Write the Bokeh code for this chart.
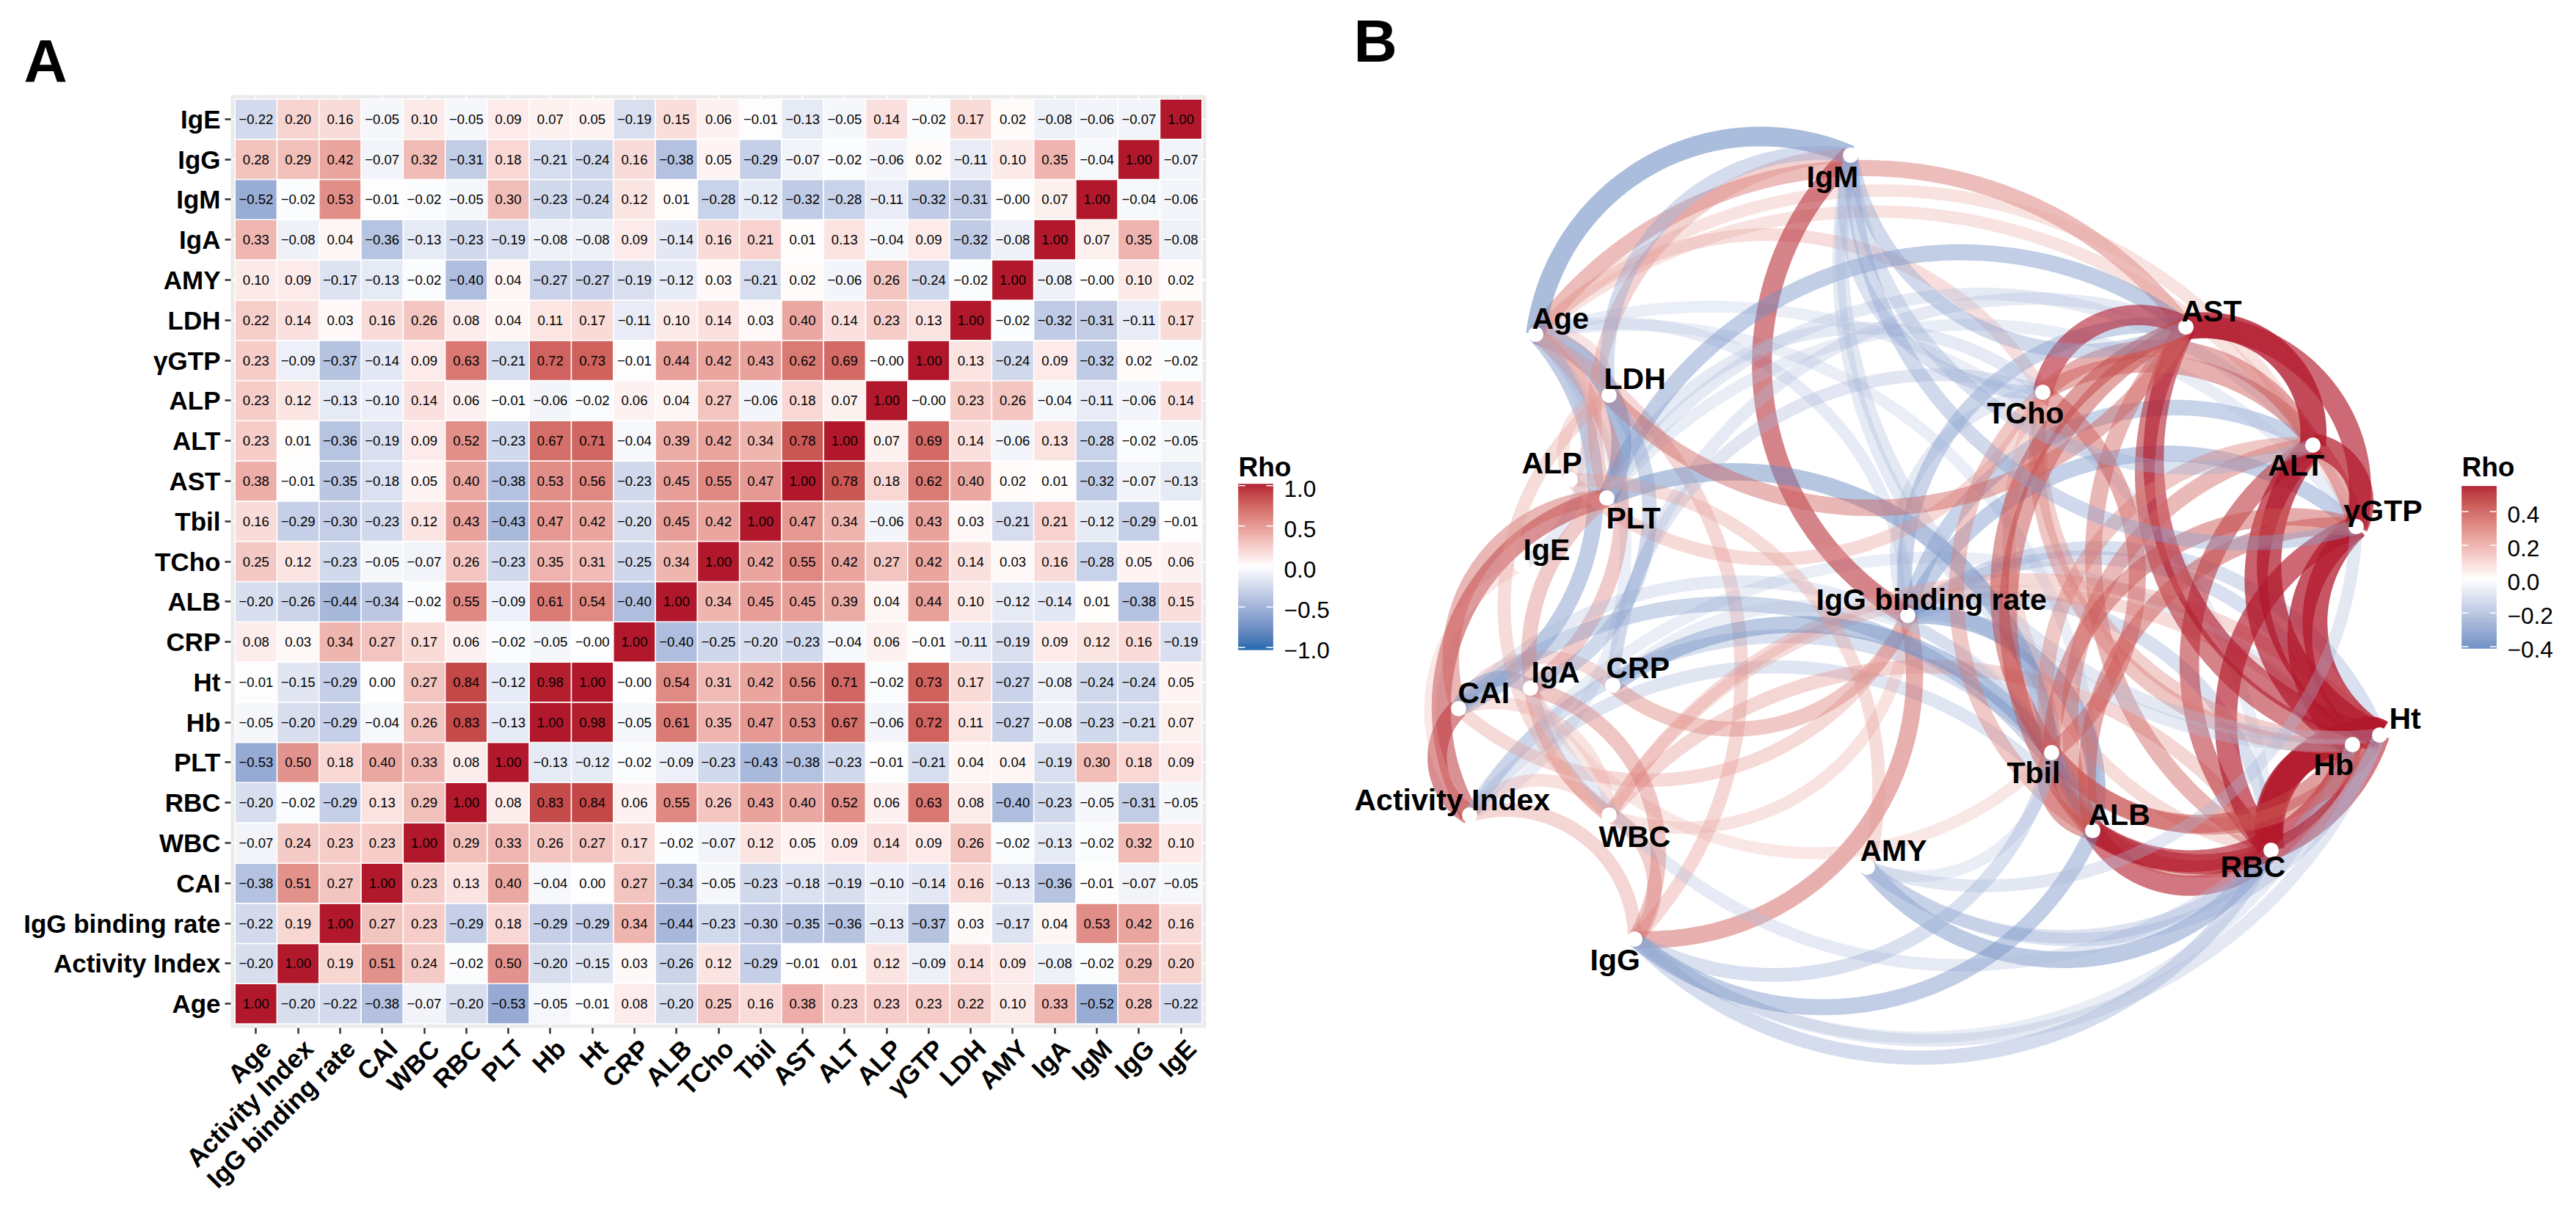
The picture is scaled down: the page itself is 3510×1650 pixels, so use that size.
import math
import numpy as np
from bokeh.embed import file_html
from bokeh.resources import INLINE
from bokeh.layouts import row, column
from bokeh.plotting import figure
from bokeh.models import (ColumnDataSource, LinearColorMapper, FixedTicker, Range1d, LinearAxis, Title)
from bokeh.core.properties import value

FONT = "Liberation Sans"

names = ["Age", "Activity Index", "IgG binding rate", "CAI", "WBC", "RBC", "PLT", "Hb", "Ht", "CRP",
         "ALB", "TCho", "Tbil", "AST", "ALT", "ALP", "γGTP", "LDH", "AMY", "IgA", "IgM", "IgG", "IgE"]

r_Age  = [1.00,-0.20,-0.22,-0.38,-0.07,-0.20,-0.53,-0.05,-0.01,0.08,-0.20,0.25,0.16,0.38,0.23,0.23,0.23,0.22,0.10,0.33,-0.52,0.28,-0.22]
r_Act  = [-0.20,1.00,0.19,0.51,0.24,-0.02,0.50,-0.20,-0.15,0.03,-0.26,0.12,-0.29,-0.01,0.01,0.12,-0.09,0.14,0.09,-0.08,-0.02,0.29,0.20]
r_IgGb = [-0.22,0.19,1.00,0.27,0.23,-0.29,0.18,-0.29,-0.29,0.34,-0.44,-0.23,-0.30,-0.35,-0.36,-0.13,-0.37,0.03,-0.17,0.04,0.53,0.42,0.16]
r_CAI  = [-0.38,0.51,0.27,1.00,0.23,0.13,0.40,-0.04,0.00,0.27,-0.34,-0.05,-0.23,-0.18,-0.19,-0.10,-0.14,0.16,-0.13,-0.36,-0.01,-0.07,-0.05]
r_WBC  = [-0.07,0.24,0.23,0.23,1.00,0.29,0.33,0.26,0.27,0.17,-0.02,-0.07,0.12,0.05,0.09,0.14,0.09,0.26,-0.02,-0.13,-0.02,0.32,0.10]
r_RBC  = [-0.20,-0.02,-0.29,0.13,0.29,1.00,0.08,0.83,0.84,0.06,0.55,0.26,0.43,0.40,0.52,0.06,0.63,0.08,-0.40,-0.23,-0.05,-0.31,-0.05]
r_PLT  = [-0.53,0.50,0.18,0.40,0.33,0.08,1.00,-0.13,-0.12,-0.02,-0.09,-0.23,-0.43,-0.38,-0.23,-0.01,-0.21,0.04,0.04,-0.19,0.30,0.18,0.09]
r_Hb   = [-0.05,-0.20,-0.29,-0.04,0.26,0.83,-0.13,1.00,0.98,-0.05,0.61,0.35,0.47,0.53,0.67,-0.06,0.72,0.11,-0.27,-0.08,-0.23,-0.21,0.07]
r_Ht   = [-0.01,-0.15,-0.29,0.00,0.27,0.84,-0.12,0.98,1.00,-0.00,0.54,0.31,0.42,0.56,0.71,-0.02,0.73,0.17,-0.27,-0.08,-0.24,-0.24,0.05]
r_CRP  = [0.08,0.03,0.34,0.27,0.17,0.06,-0.02,-0.05,-0.00,1.00,-0.40,-0.25,-0.20,-0.23,-0.04,0.06,-0.01,-0.11,-0.19,0.09,0.12,0.16,-0.19]
r_ALB  = [-0.20,-0.26,-0.44,-0.34,-0.02,0.55,-0.09,0.61,0.54,-0.40,1.00,0.34,0.45,0.45,0.39,0.04,0.44,0.10,-0.12,-0.14,0.01,-0.38,0.15]
r_TCho = [0.25,0.12,-0.23,-0.05,-0.07,0.26,-0.23,0.35,0.31,-0.25,0.34,1.00,0.42,0.55,0.42,0.27,0.42,0.14,0.03,0.16,-0.28,0.05,0.06]
r_Tbil = [0.16,-0.29,-0.30,-0.23,0.12,0.43,-0.43,0.47,0.42,-0.20,0.45,0.42,1.00,0.47,0.34,-0.06,0.43,0.03,-0.21,0.21,-0.12,-0.29,-0.01]
r_AST  = [0.38,-0.01,-0.35,-0.18,0.05,0.40,-0.38,0.53,0.56,-0.23,0.45,0.55,0.47,1.00,0.78,0.18,0.62,0.40,0.02,0.01,-0.32,-0.07,-0.13]
r_ALT  = [0.23,0.01,-0.36,-0.19,0.09,0.52,-0.23,0.67,0.71,-0.04,0.39,0.42,0.34,0.78,1.00,0.07,0.69,0.14,-0.06,0.13,-0.28,-0.02,-0.05]
r_ALP  = [0.23,0.12,-0.13,-0.10,0.14,0.06,-0.01,-0.06,-0.02,0.06,0.04,0.27,-0.06,0.18,0.07,1.00,-0.00,0.23,0.26,-0.04,-0.11,-0.06,0.14]
r_GTP  = [0.23,-0.09,-0.37,-0.14,0.09,0.63,-0.21,0.72,0.73,-0.01,0.44,0.42,0.43,0.62,0.69,-0.00,1.00,0.13,-0.24,0.09,-0.32,0.02,-0.02]
r_LDH  = [0.22,0.14,0.03,0.16,0.26,0.08,0.04,0.11,0.17,-0.11,0.10,0.14,0.03,0.40,0.14,0.23,0.13,1.00,-0.02,-0.32,-0.31,-0.11,0.17]
r_AMY  = [0.10,0.09,-0.17,-0.13,-0.02,-0.40,0.04,-0.27,-0.27,-0.19,-0.12,0.03,-0.21,0.02,-0.06,0.26,-0.24,-0.02,1.00,-0.08,-0.00,0.10,0.02]
r_IgA  = [0.33,-0.08,0.04,-0.36,-0.13,-0.23,-0.19,-0.08,-0.08,0.09,-0.14,0.16,0.21,0.01,0.13,-0.04,0.09,-0.32,-0.08,1.00,0.07,0.35,-0.08]
r_IgM  = [-0.52,-0.02,0.53,-0.01,-0.02,-0.05,0.30,-0.23,-0.24,0.12,0.01,-0.28,-0.12,-0.32,-0.28,-0.11,-0.32,-0.31,-0.00,0.07,1.00,-0.04,-0.06]
r_IgG  = [0.28,0.29,0.42,-0.07,0.32,-0.31,0.18,-0.21,-0.24,0.16,-0.38,0.05,-0.29,-0.07,-0.02,-0.06,0.02,-0.11,0.10,0.35,-0.04,1.00,-0.07]
r_IgE  = [-0.22,0.20,0.16,-0.05,0.10,-0.05,0.09,0.07,0.05,-0.19,0.15,0.06,-0.01,-0.13,-0.05,0.14,-0.02,0.17,0.02,-0.08,-0.06,-0.07,1.00]
matrix = [r_Age, r_Act, r_IgGb, r_CAI, r_WBC, r_RBC, r_PLT, r_Hb, r_Ht, r_CRP, r_ALB, r_TCho, r_Tbil,
          r_AST, r_ALT, r_ALP, r_GTP, r_LDH, r_AMY, r_IgA, r_IgM, r_IgG, r_IgE]

node_x = [2094, 2004, 2601, 1989, 2194, 3096, 2191, 3207, 3244, 2199, 2853, 2785, 2797, 2980, 3153, 2141, 3212, 2194, 2546, 2087, 2523, 2229, 2075]
node_y = [463, 1118, 846, 973, 1118, 1166, 686, 1022, 1009, 941, 1139, 542, 1033, 453, 614, 661, 725, 546, 1189, 945, 219, 1287, 778]
label_x = [2089, 1847, 2476, 1988, 2180, 3027, 2190, 3154, 3257, 2190, 2847, 2709, 2736, 2974, 3092, 2075, 3195, 2187, 2536, 2088, 2463, 2168, 2077]
label_y = [451, 1107, 834, 961, 1157, 1198, 723, 1059, 996, 927, 1127, 580, 1070, 441, 651, 648, 713, 533, 1176, 933, 258, 1325, 766]

heat_ticks = [-1.0, -0.5, 0.0, 0.5, 1.0]
edge_ticks = [-0.4, -0.2, 0.0, 0.2, 0.4]


def _lab(h):
    rgb = [int(h[i:i + 2], 16) / 255 for i in (1, 3, 5)]
    rgb = [c / 12.92 if c <= 0.04045 else ((c + 0.055) / 1.055) ** 2.4 for c in rgb]
    X = (0.4124 * rgb[0] + 0.3576 * rgb[1] + 0.1805 * rgb[2]) / 0.95047
    Y = 0.2126 * rgb[0] + 0.7152 * rgb[1] + 0.0722 * rgb[2]
    Z = (0.0193 * rgb[0] + 0.1192 * rgb[1] + 0.9505 * rgb[2]) / 1.08883
    f = lambda t: t ** (1 / 3) if t > 0.008856 else 7.787 * t + 16 / 116
    return (116 * f(Y) - 16, 500 * (f(X) - f(Y)), 200 * (f(Y) - f(Z)))


def _hex(lab):
    fy = (lab[0] + 16) / 116
    fx, fz = fy + lab[1] / 500, fy - lab[2] / 200
    g = lambda t: t ** 3 if t ** 3 > 0.008856 else (t - 16 / 116) / 7.787
    X, Y, Z = g(fx) * 0.95047, g(fy), g(fz) * 1.08883
    rgb = [3.2406 * X - 1.5372 * Y - 0.4986 * Z, -0.9689 * X + 1.8758 * Y + 0.0415 * Z, 0.0557 * X - 0.2040 * Y + 1.0570 * Z]
    out = []
    for c in rgb:
        c = max(0, min(1, c))
        c = 12.92 * c if c <= 0.0031308 else 1.055 * c ** (1 / 2.4) - 0.055
        out.append(round(c * 255))
    return "#%02x%02x%02x" % tuple(out)


LOW, MID, HIGH = _lab("#2166AC"), _lab("#FFFFFF"), _lab("#B2182B")


def ramp(t):
    a, b = (MID, HIGH) if t >= 0 else (MID, LOW)
    t = abs(t)
    return _hex(tuple(a[k] + (b[k] - a[k]) * t for k in range(3)))


heat_mapper = LinearColorMapper(palette=[ramp(-1 + 2 * i / 255) for i in range(256)], low=-1, high=1)
EDGE_LOW, EDGE_HIGH = -0.41, 0.55
edge_mapper = LinearColorMapper(
    palette=[ramp((EDGE_LOW + (EDGE_HIGH - EDGE_LOW) * i / 255) / EDGE_HIGH) for i in range(256)],
    low=EDGE_LOW, high=EDGE_HIGH)

n = len(names)
xs, ys, vals, txt = [], [], [], []
for i in range(n):
    for j in range(n):
        v = matrix[j][i]
        xs.append(i); ys.append(j); vals.append(v)
        txt.append(f"{v:.2f}".replace("-", "−"))
heat = ColumnDataSource(dict(x=xs, y=ys, v=vals, t=txt))

pA = figure(frame_width=1329, frame_height=1271, x_range=Range1d(-0.6, n - 0.4), y_range=Range1d(-0.6, n - 0.4),
            min_border_left=314, min_border_right=6, min_border_top=129, min_border_bottom=234,
            output_backend="svg", toolbar_location=None, background_fill_color="#EBEBEB",
            outline_line_color=None)
pA.rect("x", "y", 1, 1, source=heat, fill_color={"field": "v", "transform": heat_mapper},
        line_color="white", line_width=1.5)
pA.text("x", "y", text="t", source=heat, text_align="center", text_baseline="middle",
        text_font=value(FONT), text_font_size="18.5px", text_color="black")
for ax in (pA.xaxis[0], pA.yaxis[0]):
    ax.ticker = FixedTicker(ticks=list(range(n)))
    ax.axis_line_color = None
    ax.major_tick_line_color = "#333333"
    ax.major_tick_line_width = 2.5
    ax.major_tick_in = 0
    ax.major_tick_out = 8
    ax.minor_tick_line_color = None
    ax.major_label_text_font = FONT
    ax.major_label_text_font_style = "bold"
    ax.major_label_text_font_size = "35px"
    ax.major_label_text_color = "black"
    ax.major_label_standoff = 6
pA.yaxis[0].major_label_overrides = {i: names[i] for i in range(n)}
pA.xaxis[0].major_label_overrides = {i: "" for i in range(n)}
pA.xaxis[0].major_label_text_font_size = "1px"
pA.xaxis[0].major_label_standoff = 2
SHIFT = 0.25
name_axis = LinearAxis(ticker=FixedTicker(ticks=[i + SHIFT for i in range(n)]),
                       major_label_overrides={i + SHIFT: names[i] for i in range(n)},
                       axis_line_color=None, major_tick_line_color=None, minor_tick_line_color=None,
                       major_label_text_font=FONT, major_label_text_font_style="bold",
                       major_label_text_font_size="35px", major_label_text_color="black",
                       major_label_orientation=math.pi / 4, major_label_standoff=8)
pA.add_layout(name_axis, "below")
pA.grid.ticker = FixedTicker(ticks=list(range(n)))
pA.grid.grid_line_color = "white"
pA.grid.grid_line_width = 2
pA.title = Title(text="A", text_font=FONT, text_font_style="bold", text_font_size="82px", text_color="black",
                 align="left", offset=-282, vertical_align="top", standoff=0)

WIDE, SAG = 34, 0.25
ex, ey, rho, lw, la = [], [], [], [], []
for i in range(n):
    for j in range(i + 1, n):
        v = matrix[i][j]
        if abs(v) < 0.2:
            continue
        px, py, qx, qy = node_x[i], node_y[i], node_x[j], node_y[j]
        dx, dy = qx - px, qy - py
        L = math.hypot(dx, dy)
        nx, ny = dy / L, -dx / L
        h = SAG * L
        R = (L * L / 4 + h * h) / (2 * h)
        cx, cy = (px + qx) / 2 - nx * (R - h), (py + qy) / 2 - ny * (R - h)
        phi0 = math.asin(L / 2 / R)
        phi = np.linspace(-phi0, phi0, 60)
        ex.append((cx + R * (np.cos(phi) * nx + np.sin(phi) * dx / L)).tolist())
        ey.append((cy + R * (np.cos(phi) * ny + np.sin(phi) * dy / L)).tolist())
        rho.append(v)
        lw.append(9 + WIDE * abs(v))
        la.append(min(1, 0.12 + 0.85 * abs(v)))
edges = ColumnDataSource(dict(xs=ex, ys=ey, rho=rho, w=lw, a=la))

pB = figure(frame_width=1852, frame_height=1634, x_range=Range1d(1651, 3503), y_range=Range1d(1642, 8), min_border=0,
            output_backend="svg", toolbar_location=None, outline_line_color=None)
pB.axis.visible = False
pB.grid.visible = False
pB.multi_line("xs", "ys", source=edges, line_color={"field": "rho", "transform": edge_mapper},
              line_width="w", line_alpha="a", line_cap="butt", line_join="round")
pB.scatter(node_x, node_y, size=21, color="white", line_color=None)
pB.text(label_x, label_y, text=names, y_offset=-10, text_align="left", text_baseline="alphabetic", text_font=value(FONT),
        text_font_style="bold", text_font_size="41px", text_color="black")


def legend(fig, mapper, ticks, left, top, bottom, low, high, width=47, title_y=653):
    rows = int(bottom - top)
    v = [high - (high - low) * (k + 0.5) / rows for k in range(rows)]
    src = ColumnDataSource(dict(l=[left] * rows, r=[left + width] * rows,
                                t=[top + k for k in range(rows)], b=[top + k + 1 for k in range(rows)], v=v))
    spec = {"field": "v", "transform": mapper}
    fig.quad(left="l", right="r", top="t", bottom="b", source=src, fill_color=spec, line_color=spec, line_width=0.5)
    ty = [top + (high - t) / (high - low) * (bottom - top) for t in ticks]
    fig.segment([left] * len(ty), ty, [left + 9] * len(ty), ty, line_color="white", line_width=1.5)
    fig.segment([left + width - 9] * len(ty), ty, [left + width] * len(ty), ty, line_color="white", line_width=1.5)
    fig.text([left + width + 15] * len(ty), ty, text=[f"{t:.1f}".replace("-", "−") for t in ticks], y_offset=4,
             text_baseline="middle", text_font=value(FONT), text_font_size="31.5px", text_color="black")
    fig.text([left], [title_y], text=["Rho"], y_offset=-9, text_baseline="alphabetic", text_font=value(FONT),
             text_font_style="bold", text_font_size="37px", text_color="black")


legend(pB, heat_mapper, heat_ticks, 1689, 667, 893, -1.03, 1.02)
legend(pB, edge_mapper, edge_ticks, 3356, 670, 891, EDGE_LOW, EDGE_HIGH)
pB.text([1846], [84], text=["B"], y_offset=-21, text_baseline="alphabetic", text_font=value(FONT), text_font_style="bold",
        text_font_size="82px", text_color="black")

open("out.html", "w").write(file_html(row(pA, column(pB), spacing=0), INLINE))
